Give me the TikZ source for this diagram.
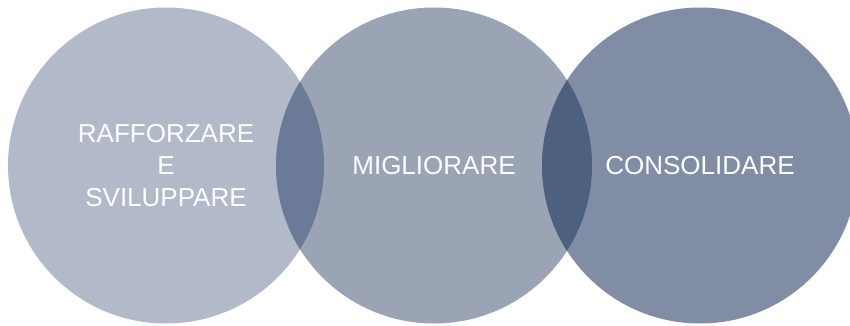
\documentclass[tikz,border=0pt]{standalone}
\usepackage{fontspec}
\setmainfont{Liberation Sans}
\usepackage{xcolor}
\usepackage{tikz}

\definecolor{circleA}{HTML}{B2B9C9}
\definecolor{circleB}{HTML}{9AA4B5}
\definecolor{circleC}{HTML}{808DA5}
\definecolor{overlapAB}{HTML}{6B7A96}
\definecolor{overlapBC}{HTML}{4D6080}

\begin{document}
\begin{tikzpicture}[
  x=1pt, y=1pt,
  every node/.style={circle, minimum size=316pt, inner sep=0pt,
    text=white, align=center, font=\fontsize{26}{32}\selectfont}
]
\useasboundingbox (0,0) rectangle (850,325);
\node[fill=circleA] (rafforzare) at (166,159.5) {RAFFORZARE\\E\\SVILUPPARE};
\node[fill=circleB] (migliorare) at (434,159.5) {MIGLIORARE};
\node[fill=circleC] (consolidare) at (700,159.5) {CONSOLIDARE};
% overlaps
\begin{scope}
  \clip (rafforzare.center) circle (158);
  \fill[overlapAB] (migliorare.center) circle (158);
\end{scope}
\begin{scope}
  \clip (migliorare.center) circle (158);
  \fill[overlapBC] (consolidare.center) circle (158);
\end{scope}
\end{tikzpicture}
\end{document}
